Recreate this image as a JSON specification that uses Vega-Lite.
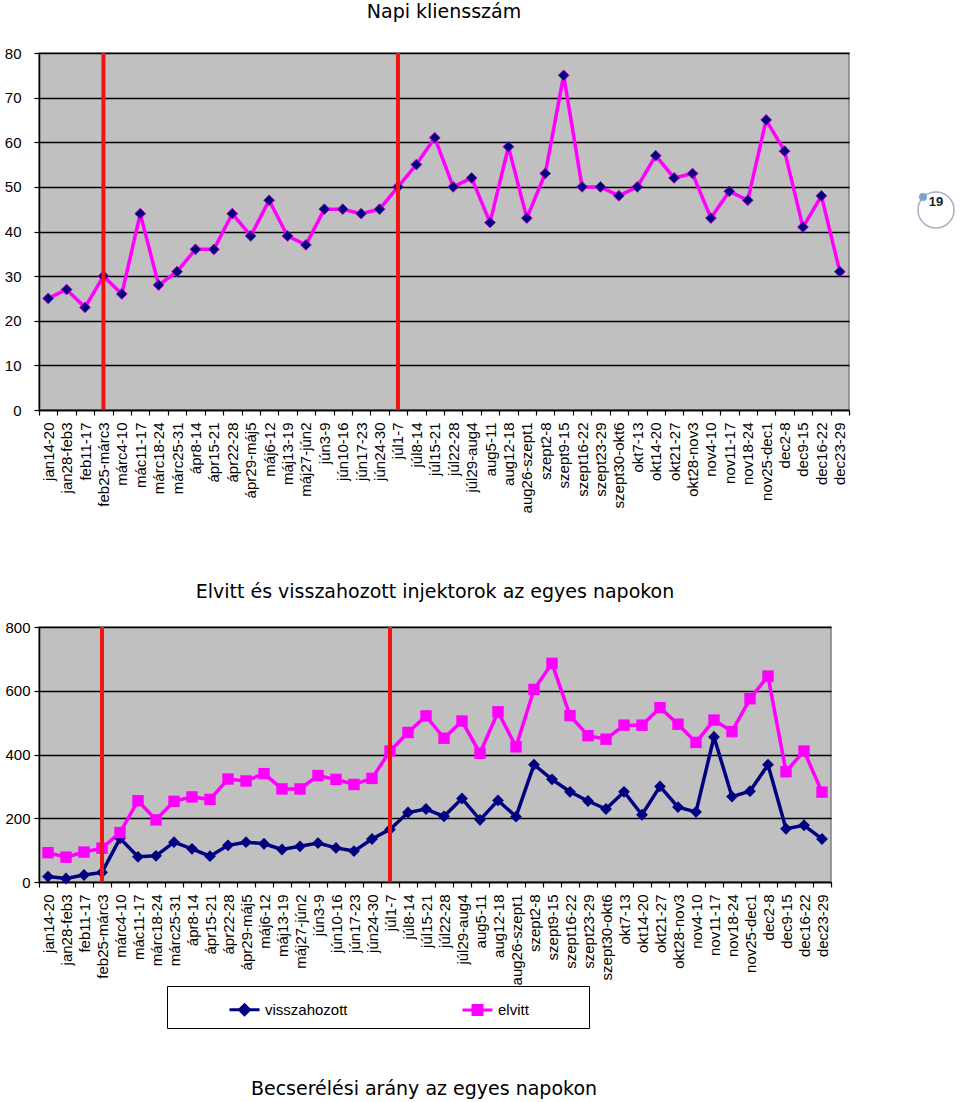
{
  "$schema": "https://vega.github.io/schema/vega-lite/v6.json",
  "padding": {"left": 3, "top": 2, "right": 0, "bottom": 0},
  "background": "white",
  "datasets": {
    "kliens": [
      {"het": "jan14-20", "fo": 25}, {"het": "jan28-feb3", "fo": 27}, {"het": "feb11-17", "fo": 23},
      {"het": "feb25-márc3", "fo": 30}, {"het": "márc4-10", "fo": 26}, {"het": "mác11-17", "fo": 44},
      {"het": "márc18-24", "fo": 28}, {"het": "márc25-31", "fo": 31}, {"het": "ápr8-14", "fo": 36},
      {"het": "ápr15-21", "fo": 36}, {"het": "ápr22-28", "fo": 44}, {"het": "ápr29-máj5", "fo": 39},
      {"het": "máj6-12", "fo": 47}, {"het": "máj13-19", "fo": 39}, {"het": "máj27-jún2", "fo": 37},
      {"het": "jún3-9", "fo": 45}, {"het": "jún10-16", "fo": 45}, {"het": "jún17-23", "fo": 44},
      {"het": "jún24-30", "fo": 45}, {"het": "júl1-7", "fo": 50}, {"het": "júl8-14", "fo": 55},
      {"het": "júl15-21", "fo": 61}, {"het": "júl22-28", "fo": 50}, {"het": "júl29-aug4", "fo": 52},
      {"het": "aug5-11", "fo": 42}, {"het": "aug12-18", "fo": 59}, {"het": "aug26-szept1", "fo": 43},
      {"het": "szept2-8", "fo": 53}, {"het": "szept9-15", "fo": 75}, {"het": "szept16-22", "fo": 50},
      {"het": "szept23-29", "fo": 50}, {"het": "szept30-okt6", "fo": 48}, {"het": "okt7-13", "fo": 50},
      {"het": "okt14-20", "fo": 57}, {"het": "okt21-27", "fo": 52}, {"het": "okt28-nov3", "fo": 53},
      {"het": "nov4-10", "fo": 43}, {"het": "nov11-17", "fo": 49}, {"het": "nov18-24", "fo": 47},
      {"het": "nov25-dec1", "fo": 65}, {"het": "dec2-8", "fo": 58}, {"het": "dec9-15", "fo": 41},
      {"het": "dec16-22", "fo": 48}, {"het": "dec23-29", "fo": 31}
    ],
    "injektor": [
      {"het": "jan14-20", "sorozat": "visszahozott", "db": 17}, {"het": "jan14-20", "sorozat": "elvitt", "db": 92},
      {"het": "jan28-feb3", "sorozat": "visszahozott", "db": 11}, {"het": "jan28-feb3", "sorozat": "elvitt", "db": 78},
      {"het": "feb11-17", "sorozat": "visszahozott", "db": 22}, {"het": "feb11-17", "sorozat": "elvitt", "db": 94},
      {"het": "feb25-márc3", "sorozat": "visszahozott", "db": 30}, {"het": "feb25-márc3", "sorozat": "elvitt", "db": 106},
      {"het": "márc4-10", "sorozat": "visszahozott", "db": 137}, {"het": "márc4-10", "sorozat": "elvitt", "db": 155},
      {"het": "mác11-17", "sorozat": "visszahozott", "db": 79}, {"het": "mác11-17", "sorozat": "elvitt", "db": 255},
      {"het": "márc18-24", "sorozat": "visszahozott", "db": 82}, {"het": "márc18-24", "sorozat": "elvitt", "db": 195},
      {"het": "márc25-31", "sorozat": "visszahozott", "db": 125}, {"het": "márc25-31", "sorozat": "elvitt", "db": 253},
      {"het": "ápr8-14", "sorozat": "visszahozott", "db": 104}, {"het": "ápr8-14", "sorozat": "elvitt", "db": 267},
      {"het": "ápr15-21", "sorozat": "visszahozott", "db": 81}, {"het": "ápr15-21", "sorozat": "elvitt", "db": 259},
      {"het": "ápr22-28", "sorozat": "visszahozott", "db": 115}, {"het": "ápr22-28", "sorozat": "elvitt", "db": 323},
      {"het": "ápr29-máj5", "sorozat": "visszahozott", "db": 125}, {"het": "ápr29-máj5", "sorozat": "elvitt", "db": 317},
      {"het": "máj6-12", "sorozat": "visszahozott", "db": 120}, {"het": "máj6-12", "sorozat": "elvitt", "db": 340},
      {"het": "máj13-19", "sorozat": "visszahozott", "db": 102}, {"het": "máj13-19", "sorozat": "elvitt", "db": 292},
      {"het": "máj27-jún2", "sorozat": "visszahozott", "db": 112}, {"het": "máj27-jún2", "sorozat": "elvitt", "db": 292},
      {"het": "jún3-9", "sorozat": "visszahozott", "db": 122}, {"het": "jún3-9", "sorozat": "elvitt", "db": 334},
      {"het": "jún10-16", "sorozat": "visszahozott", "db": 107}, {"het": "jún10-16", "sorozat": "elvitt", "db": 322},
      {"het": "jún17-23", "sorozat": "visszahozott", "db": 97}, {"het": "jún17-23", "sorozat": "elvitt", "db": 306},
      {"het": "jún24-30", "sorozat": "visszahozott", "db": 135}, {"het": "jún24-30", "sorozat": "elvitt", "db": 325},
      {"het": "júl1-7", "sorozat": "visszahozott", "db": 165}, {"het": "júl1-7", "sorozat": "elvitt", "db": 411},
      {"het": "júl8-14", "sorozat": "visszahozott", "db": 218}, {"het": "júl8-14", "sorozat": "elvitt", "db": 469},
      {"het": "júl15-21", "sorozat": "visszahozott", "db": 229}, {"het": "júl15-21", "sorozat": "elvitt", "db": 521},
      {"het": "júl22-28", "sorozat": "visszahozott", "db": 206}, {"het": "júl22-28", "sorozat": "elvitt", "db": 451},
      {"het": "júl29-aug4", "sorozat": "visszahozott", "db": 262}, {"het": "júl29-aug4", "sorozat": "elvitt", "db": 505},
      {"het": "aug5-11", "sorozat": "visszahozott", "db": 195}, {"het": "aug5-11", "sorozat": "elvitt", "db": 404},
      {"het": "aug12-18", "sorozat": "visszahozott", "db": 256}, {"het": "aug12-18", "sorozat": "elvitt", "db": 534},
      {"het": "aug26-szept1", "sorozat": "visszahozott", "db": 205}, {"het": "aug26-szept1", "sorozat": "elvitt", "db": 424},
      {"het": "szept2-8", "sorozat": "visszahozott", "db": 368}, {"het": "szept2-8", "sorozat": "elvitt", "db": 604},
      {"het": "szept9-15", "sorozat": "visszahozott", "db": 322}, {"het": "szept9-15", "sorozat": "elvitt", "db": 686},
      {"het": "szept16-22", "sorozat": "visszahozott", "db": 283}, {"het": "szept16-22", "sorozat": "elvitt", "db": 522},
      {"het": "szept23-29", "sorozat": "visszahozott", "db": 254}, {"het": "szept23-29", "sorozat": "elvitt", "db": 459},
      {"het": "szept30-okt6", "sorozat": "visszahozott", "db": 229}, {"het": "szept30-okt6", "sorozat": "elvitt", "db": 448},
      {"het": "okt7-13", "sorozat": "visszahozott", "db": 283}, {"het": "okt7-13", "sorozat": "elvitt", "db": 492},
      {"het": "okt14-20", "sorozat": "visszahozott", "db": 211}, {"het": "okt14-20", "sorozat": "elvitt", "db": 492},
      {"het": "okt21-27", "sorozat": "visszahozott", "db": 300}, {"het": "okt21-27", "sorozat": "elvitt", "db": 547},
      {"het": "okt28-nov3", "sorozat": "visszahozott", "db": 235}, {"het": "okt28-nov3", "sorozat": "elvitt", "db": 495},
      {"het": "nov4-10", "sorozat": "visszahozott", "db": 220}, {"het": "nov4-10", "sorozat": "elvitt", "db": 438},
      {"het": "nov11-17", "sorozat": "visszahozott", "db": 455}, {"het": "nov11-17", "sorozat": "elvitt", "db": 508},
      {"het": "nov18-24", "sorozat": "visszahozott", "db": 268}, {"het": "nov18-24", "sorozat": "elvitt", "db": 472},
      {"het": "nov25-dec1", "sorozat": "visszahozott", "db": 285}, {"het": "nov25-dec1", "sorozat": "elvitt", "db": 575},
      {"het": "dec2-8", "sorozat": "visszahozott", "db": 368}, {"het": "dec2-8", "sorozat": "elvitt", "db": 646},
      {"het": "dec9-15", "sorozat": "visszahozott", "db": 167}, {"het": "dec9-15", "sorozat": "elvitt", "db": 346},
      {"het": "dec16-22", "sorozat": "visszahozott", "db": 178}, {"het": "dec16-22", "sorozat": "elvitt", "db": 411},
      {"het": "dec23-29", "sorozat": "visszahozott", "db": 135}, {"het": "dec23-29", "sorozat": "elvitt", "db": 282}
    ]
  },
  "resolve": {"scale": {"color": "independent"}, "legend": {"color": "independent"}},
  "concat": [
    {
      "spacing": 63,
      "hconcat": [
        {
          "title": {"text": "Napi kliensszám", "offset": 24},
          "width": 810,
          "height": 357,
          "view": {"fill": "#c0c0c0", "stroke": "#808080", "strokeWidth": 1.5},
          "data": {"name": "kliens"},
          "encoding": {
            "x": {
              "field": "het", "type": "nominal", "title": null,
              "scale": {"paddingInner": 0, "paddingOuter": 0, "domain": ["jan14-20","jan28-feb3","feb11-17","feb25-márc3","márc4-10","mác11-17","márc18-24","márc25-31","ápr8-14","ápr15-21","ápr22-28","ápr29-máj5","máj6-12","máj13-19","máj27-jún2","jún3-9","jún10-16","jún17-23","jún24-30","júl1-7","júl8-14","júl15-21","júl22-28","júl29-aug4","aug5-11","aug12-18","aug26-szept1","szept2-8","szept9-15","szept16-22","szept23-29","szept30-okt6","okt7-13","okt14-20","okt21-27","okt28-nov3","nov4-10","nov11-17","nov18-24","nov25-dec1","dec2-8","dec9-15","dec16-22","dec23-29"]}
            }
          },
          "layer": [
            {
              "mark": {"type": "line", "color": "#ff00ff", "strokeWidth": 3.5},
              "encoding": {
                "y": {"field": "fo", "type": "quantitative", "title": null,
                      "scale": {"domain": [0, 80]},
                      "axis": {"values": [0, 10, 20, 30, 40, 50, 60, 70, 80], "labelPadding": 13}}
              }
            },
            {
              "mark": {"type": "point", "shape": "diamond", "filled": true, "fill": "#000080", "stroke": "#b000c0", "strokeWidth": 1, "size": 115, "opacity": 1},
              "encoding": {"y": {"field": "fo", "type": "quantitative"}}
            },
            {
              "transform": [{"filter": "datum.het === 'feb25-márc3' || datum.het === 'júl1-7'"}],
              "mark": {"type": "rule", "color": "#ee1515", "strokeWidth": 4},
              "encoding": {}
            }
          ]
        },
        {
          "width": 40,
          "height": 298,
          "view": {"stroke": null},
          "data": {"values": [{"n": "19"}]},
          "layer": [
            {"mark": {"type": "point", "shape": "circle", "size": 1300, "filled": false, "stroke": "#a3b1c2", "strokeWidth": 1.5, "yOffset": 8, "opacity": 1}, "encoding": {}},
            {"mark": {"type": "point", "shape": "circle", "size": 64, "filled": true, "fill": "#7ba3d3", "xOffset": -13, "yOffset": -5, "opacity": 1}, "encoding": {}},
            {"mark": {"type": "text", "font": "Liberation Sans", "fontSize": 13, "fontWeight": "bold", "color": "#222"}, "encoding": {"text": {"field": "n"}}}
          ]
        }
      ]
    },
    {
      "spacing": 50,
      "resolve": {"scale": {"color": "independent"}, "legend": {"color": "independent"}},
      "vconcat": [
        {
          "title": {"text": "Elvitt és visszahozott injektorok az egyes napokon", "offset": 18},
          "width": 792,
          "height": 255,
          "view": {"fill": "#c0c0c0", "stroke": "#808080", "strokeWidth": 1.5},
          "data": {"name": "injektor"},
          "encoding": {
            "x": {
              "field": "het", "type": "nominal", "title": null,
              "scale": {"paddingInner": 0, "paddingOuter": 0, "domain": ["jan14-20","jan28-feb3","feb11-17","feb25-márc3","márc4-10","mác11-17","márc18-24","márc25-31","ápr8-14","ápr15-21","ápr22-28","ápr29-máj5","máj6-12","máj13-19","máj27-jún2","jún3-9","jún10-16","jún17-23","jún24-30","júl1-7","júl8-14","júl15-21","júl22-28","júl29-aug4","aug5-11","aug12-18","aug26-szept1","szept2-8","szept9-15","szept16-22","szept23-29","szept30-okt6","okt7-13","okt14-20","okt21-27","okt28-nov3","nov4-10","nov11-17","nov18-24","nov25-dec1","dec2-8","dec9-15","dec16-22","dec23-29"]}
            }
          },
          "layer": [
            {
              "mark": {"type": "line", "strokeWidth": 3.5},
              "encoding": {
                "y": {"field": "db", "type": "quantitative", "title": null,
                      "scale": {"domain": [0, 800]},
                      "axis": {"values": [0, 100, 200, 300, 400, 500, 600, 700, 800], "labelPadding": 4}},
                "color": {
                  "field": "sorozat", "type": "nominal",
                  "scale": {"domain": ["visszahozott", "elvitt"], "range": ["#000080", "#ff00ff"]},
                  "legend": {
                    "orient": "none", "legendX": 128, "legendY": 359,
                    "direction": "horizontal", "columns": 2, "gridAlign": "all",
                    "title": null,
                    "strokeColor": "#000", "fillColor": "#fff", "padding": 7,
                    "labelFont": "Liberation Sans", "labelFontSize": 15, "labelColor": "#000", "labelOffset": 4,
                    "symbolSize": 900, "symbolStrokeWidth": 3, "symbolOffset": 54, "columnPadding": 58,
                    "encode": {
                      "symbols": {
                        "update": {
                          "shape": {"signal": "datum.value === 'visszahozott' ? 'M-1,0H1M0,-0.33L0.33,0L0,0.33L-0.33,0Z' : 'M-1,0H1M-0.3,-0.3H0.3V0.3H-0.3ZM6.5,0h0.001'"},
                          "fill": {"signal": "datum.value === 'visszahozott' ? '#000080' : '#ff00ff'"},
                          "stroke": {"signal": "datum.value === 'visszahozott' ? '#000080' : '#ff00ff'"},
                          "strokeWidth": {"value": 3},
                          "opacity": {"value": 1}
                        }
                      }
                    }
                  }
                }
              }
            },
            {
              "transform": [{"filter": "datum.sorozat === 'visszahozott'"}],
              "mark": {"type": "point", "shape": "diamond", "filled": true, "size": 140, "opacity": 1, "color": "#000080"},
              "encoding": {"y": {"field": "db", "type": "quantitative"}}
            },
            {
              "transform": [{"filter": "datum.sorozat === 'elvitt'"}],
              "mark": {"type": "point", "shape": "square", "filled": true, "size": 130, "opacity": 1, "color": "#ff00ff"},
              "encoding": {"y": {"field": "db", "type": "quantitative"}}
            },
            {
              "transform": [{"filter": "datum.sorozat === 'elvitt' && (datum.het === 'feb25-márc3' || datum.het === 'júl1-7')"}],
              "mark": {"type": "rule", "color": "#ee1515", "strokeWidth": 4},
              "encoding": {}
            }
          ]
        },
        {
          "title": {"text": "Becserélési arány az egyes napokon"},
          "width": 770,
          "height": 20,
          "view": {"stroke": null},
          "data": {"values": [{"n": ""}]},
          "mark": {"type": "text"},
          "encoding": {"text": {"field": "n"}}
        }
      ]
    }
  ],
  "columns": 1,
  "align": "none",
  "spacing": 68,
  "config": {
    "font": "Liberation Sans",
    "view": {"stroke": null},
    "title": {"font": "DejaVu Sans", "fontSize": 19, "fontWeight": "normal", "color": "#000", "offset": 28, "anchor": "middle"},
    "axis": {
      "labelFont": "Liberation Sans", "labelFontSize": 15, "labelColor": "#000",
      "domainColor": "#000", "domainWidth": 1.5, "tickColor": "#000", "tickWidth": 1.2, "tickSize": 5,
      "gridColor": "#000", "gridWidth": 1.3, "labelOverlap": false
    },
    "axisX": {"labelAngle": 270, "tickBand": "extent", "grid": false, "labelPadding": 7},
    "axisY": {"grid": true}
  }
}
